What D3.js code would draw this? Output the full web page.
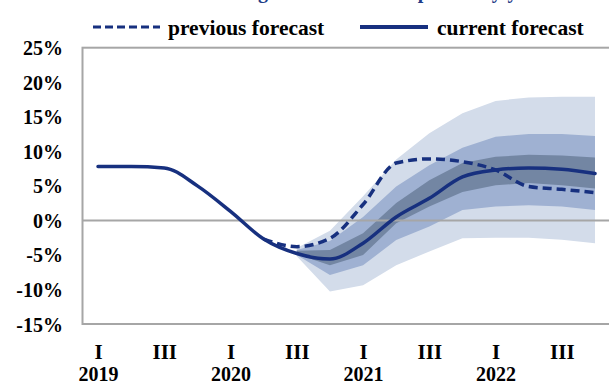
<!DOCTYPE html>
<html>
<head>
<meta charset="utf-8">
<script src="https://cdn.jsdelivr.net/npm/d3@7"></script>
<style>
  html, body { margin: 0; padding: 0; background: #fff; }
  svg { display: block; }
  text { font-family: "Liberation Serif", "Times New Roman", serif; font-weight: bold; }
</style>
</head>
<body>
<svg id="chart" width="609" height="383"></svg>
<script>
// Quarterly categories, 2019 Q1 – 2022 Q4
const quarters = ["2019Q1","2019Q2","2019Q3","2019Q4","2020Q1","2020Q2","2020Q3","2020Q4",
                  "2021Q1","2021Q2","2021Q3","2021Q4","2022Q1","2022Q2","2022Q3","2022Q4"];
const romanLabels = ["I","","III","","I","","III","","I","","III","","I","","III",""];
const yearLabels  = ["2019","","","","2020","","","","2021","","","","2022","","",""];
const yTicks = [-15,-10,-5,0,5,10,15,20,25];

// Current forecast (%, y/y)
const currentForecast = [7.8, 7.8, 7.6, 5.0, 1.3, -2.7, -4.8, -5.6, -3.3, 0.5, 3.2, 6.3, 7.3, 7.6, 7.4, 6.8];
// Previous forecast, from 2020 Q2 on
const previousQuarters = quarters.slice(5);
const previousForecast = [-2.7, -3.8, -2.6, 2.3, 8.3, 8.9, 8.5, 7.3, 4.9, 4.5, 4.0];

// Uncertainty bands, from 2020 Q3 on
const bandQuarters = quarters.slice(6);
const outerLow  = [-5.2, -10.3, -9.4, -6.5, -4.5, -2.6, -2.5, -2.5, -2.8, -3.3];
const outerHigh = [-4.0, -1.5, 3.5, 8.8, 12.6, 15.5, 17.3, 17.8, 17.9, 17.9];
const midLow    = [-5.0, -7.9, -6.5, -2.85, -0.9, 1.5, 2.0, 2.2, 2.0, 1.5];
const midHigh   = [-4.3, -3.0, 0.5, 4.9, 8.0, 10.5, 12.1, 12.5, 12.5, 12.2];
const innerLow  = [-4.9, -6.5, -5.0, -0.4, 2.0, 4.1, 5.1, 5.4, 5.1, 4.6];
const innerHigh = [-4.4, -4.3, -1.85, 2.5, 5.8, 8.3, 9.2, 9.5, 9.4, 9.1];

const titleText = "Real GDP growth forecast in per cent y/y";
const legendLabels = ["previous forecast", "current forecast"];

const lineColor = "#17307f";
const axisColor = "#a6a6a6";
const bandColors = ["#d3dcea", "#9fb1d2", "#7386a3"];

const svg = d3.select("#chart");

const plotLeft = 82.5, plotTop = 47.7, plotBottom = 324;
const x = d3.scalePoint().domain(quarters).range([98, 595]);
const y = d3.scaleLinear().domain([-15, 25]).range([plotBottom, plotTop]);

// Title (sits above the visible area)
const title = svg.append("text")
  .attr("y", -2.5)
  .attr("fill", "#1f3c88")
  .style("font-size", "20px")
  .text(titleText);
{
  const gi = titleText.indexOf("g");
  const off = title.node().getSubStringLength(0, gi);
  title.attr("x", 258 - off);
}

// Fan-chart bands
const bands = [[outerLow, outerHigh], [midLow, midHigh], [innerLow, innerHigh]];
const area = d3.area()
  .x(d => x(d.q))
  .y0(d => y(d.lo))
  .y1(d => y(d.hi))
  .curve(d3.curveLinear);
bands.forEach(([lo, hi], k) => {
  const data = bandQuarters.map((q, i) => ({ q, lo: lo[i], hi: hi[i] }));
  svg.append("path").datum(data)
    .attr("d", area)
    .attr("fill", bandColors[k]);
});

// Plot frame and zero line
svg.append("rect")
  .attr("x", plotLeft).attr("y", plotTop)
  .attr("width", 560).attr("height", plotBottom - plotTop)
  .attr("fill", "none").attr("stroke", axisColor).attr("stroke-width", 2);
svg.append("line")
  .attr("x1", plotLeft).attr("x2", 609)
  .attr("y1", y(0)).attr("y2", y(0))
  .attr("stroke", axisColor).attr("stroke-width", 2);

// Forecast lines
const line = d3.line()
  .x(d => x(d.q))
  .y(d => y(d.v))
  .curve(d3.curveMonotoneX);

svg.append("path")
  .datum(previousQuarters.map((q, i) => ({ q, v: previousForecast[i] })))
  .attr("d", line)
  .attr("fill", "none")
  .attr("stroke", lineColor)
  .attr("stroke-width", 3.5)
  .attr("stroke-dasharray", "9,5");

svg.append("path")
  .datum(quarters.map((q, i) => ({ q, v: currentForecast[i] })))
  .attr("d", line)
  .attr("fill", "none")
  .attr("stroke", lineColor)
  .attr("stroke-width", 3.5)
  .attr("stroke-linecap", "round");

// Y axis labels
const yAxis = svg.append("g")
  .attr("transform", "translate(63,0)")
  .call(d3.axisLeft(y).tickValues(yTicks).tickSize(0).tickPadding(0).tickFormat(d => d + "%"));
yAxis.select(".domain").remove();
yAxis.selectAll("text")
  .attr("fill", "#000")
  .attr("dy", "0.35em")
  .style("font-size", "20px")
  .style("font-family", "'Liberation Serif', 'Times New Roman', serif")
  .style("font-weight", "bold");

// X axis labels: quarter numerals and years
function xLabels(labels, yPos, size) {
  const g = svg.append("g")
    .call(d3.axisBottom(x).tickSize(0).tickFormat((d, i) => labels[i]));
  g.select(".domain").remove();
  g.selectAll("text")
    .attr("y", yPos)
    .attr("dy", "0.35em")
    .attr("fill", "#000")
    .style("font-size", size + "px")
    .style("font-family", "'Liberation Serif', 'Times New Roman', serif")
    .style("font-weight", "bold");
}
xLabels(romanLabels, 352, 21);
xLabels(yearLabels, 373.5, 20);

// Legend
const legend = svg.append("g");
legend.append("line")
  .attr("x1", 93).attr("x2", 160).attr("y1", 27).attr("y2", 27)
  .attr("stroke", lineColor).attr("stroke-width", 3)
  .attr("stroke-dasharray", "8,4");
legend.append("text")
  .attr("x", 168).attr("y", 27).attr("dy", "0.35em")
  .style("font-size", "21.5px")
  .text(legendLabels[0]);
legend.append("line")
  .attr("x1", 360).attr("x2", 428).attr("y1", 27).attr("y2", 27)
  .attr("stroke", lineColor).attr("stroke-width", 4);
legend.append("text")
  .attr("x", 437).attr("y", 27).attr("dy", "0.35em")
  .style("font-size", "21.5px")
  .text(legendLabels[1]);
</script>
</body>
</html>
